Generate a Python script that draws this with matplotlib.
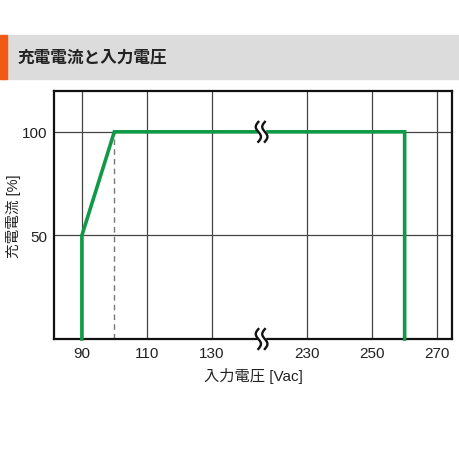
import numpy as np
import matplotlib.pyplot as plt
from matplotlib.patches import Rectangle

plt.rcParams['font.family'] = ['Liberation Sans', 'Noto Sans CJK JP', 'DejaVu Sans']

# charge current vs input voltage
voltage = [90, 90, 100, 260, 260]
current = [0, 50, 100, 100, 0]
xticks = [90, 110, 130, 230, 250, 270]
yticks = [50, 100]
knee_v = 100

# axis break: values above 180 V are shifted left
gap = 70.5
def bx(v):
    v = np.asarray(v, dtype=float)
    return np.where(v > 180, v - gap, v)

brk = 145.4  # position of the break mark on the compressed axis

fig = plt.figure(figsize=(4.6, 4.6), dpi=100)

# header band
fig.patches.append(Rectangle((0, 0.826), 1, 0.096, transform=fig.transFigure,
                             color='#dcdcdc', zorder=0))
fig.patches.append(Rectangle((0, 0.826), 7 / 460, 0.096, transform=fig.transFigure,
                             color='#f05a14', zorder=1))
fig.text(18 / 460, 0.874, '充電電流と入力電圧', fontsize=12, fontweight='bold',
         color='#222222', va='center', ha='left', family=['Noto Sans CJK JP'])

ax = fig.add_axes([54 / 460, 120 / 460, 398 / 460, 248 / 460])
ax.set_xlim(81.4, 204.1)
ax.set_ylim(0, 119.7)

ax.set_xticks(bx(xticks))
ax.set_xticklabels([str(t) for t in xticks])
ax.set_yticks(yticks)
ax.set_yticklabels([str(t) for t in yticks])
ax.tick_params(length=0, labelsize=11, pad=5, colors='#222222')
ax.grid(True, color='#444444', linewidth=0.9)
ax.set_axisbelow(True)
for s in ax.spines.values():
    s.set_linewidth(1.6)
    s.set_color('#111111')

ax.plot([knee_v, knee_v], [0, 100], color='#777777', linestyle=(0, (4, 3)),
        linewidth=1.0, zorder=2)
ax.plot(bx(voltage), current, color='#109a48', linewidth=2.6, zorder=3,
        solid_joinstyle='miter', clip_on=False)

# break marks
t = np.linspace(-1, 1, 60)
for yc in [100, 0]:
    ax.add_patch(Rectangle((brk - 1.0, yc - 5), 2.0, 10, color='white', zorder=4,
                           clip_on=False))
    for dx in [-1.0, 1.0]:
        xs = brk + dx - 0.8 * np.sin(t * np.pi)
        ys = yc + 4.8 * t
        ax.plot(xs, ys, color='#111111', linewidth=1.7, zorder=5, clip_on=False)

ax.set_xlabel('入力電圧 [Vac]', fontsize=11, color='#222222', labelpad=5)
ax.set_ylabel('充電電流 [%]', fontsize=10.5, color='#222222')
ax.yaxis.set_label_coords(-33 / 398, 0.5)

fig.savefig('out.png', dpi=100)
